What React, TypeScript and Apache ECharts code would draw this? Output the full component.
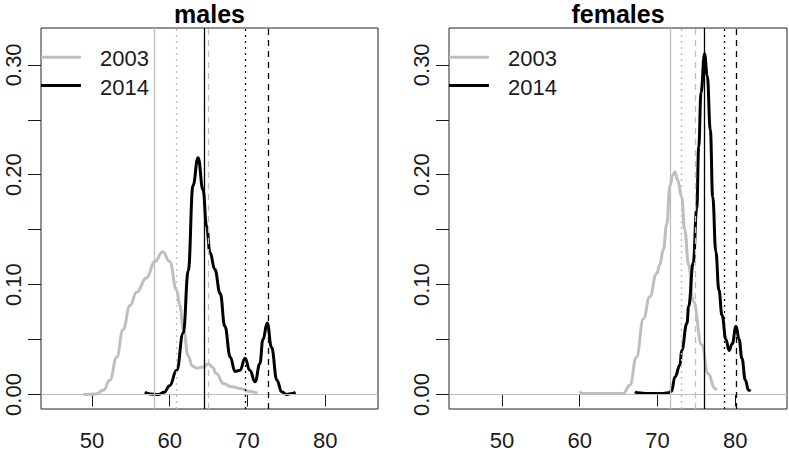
import React, { useEffect, useRef } from "react";
import * as echarts from "echarts";

// ---------- data ----------
const panelTitles = ["males", "females"];
const legendYears = ["2003", "2014"];
const xTickValues = [50, 60, 70, 80];
const yTickValues = [0, 0.05, 0.1, 0.15, 0.2, 0.25, 0.3];
const yLabelValues = [0, 0.1, 0.2, 0.3];

// males, 2003 (grey)
const malesAge2003 = [48.9, 50.5, 51.5, 52.3, 53.2, 54.0, 54.9, 55.75, 57.0, 58.1, 59.1, 60.0, 60.9, 61.3, 61.75, 62.4, 62.9, 63.5, 64.3, 65.0, 65.5, 66.0, 66.9, 68.0, 69.05, 70.2, 71.3];
const malesDens2003 = [0.0, 0.0005, 0.004, 0.013, 0.034, 0.059, 0.081, 0.093, 0.106, 0.121, 0.130, 0.121, 0.095, 0.081, 0.060, 0.035, 0.026, 0.024, 0.025, 0.028, 0.025, 0.019, 0.010, 0.007, 0.0055, 0.003, 0.001];
// males, 2014 (black)
const malesAge2014 = [56.8, 57.5, 58.5, 59.3, 60.0, 60.9, 61.75, 62.4, 63.0, 63.65, 64.3, 64.75, 65.2, 65.8, 66.5, 67.1, 67.8, 68.4, 69.05, 69.7, 70.3, 71.0, 71.6, 72.0, 72.55, 73.1, 73.8, 74.4, 75.05, 75.7, 76.2];
const malesDens2014 = [0.002, 0.0005, 0.0, 0.002, 0.008, 0.022, 0.056, 0.113, 0.19, 0.2155, 0.186, 0.153, 0.129, 0.114, 0.092, 0.062, 0.034, 0.021, 0.022, 0.033, 0.022, 0.0115, 0.028, 0.05, 0.065, 0.043, 0.013, 0.0024, 0.0, 0.001, 0.002];
// females, 2003 (grey)
const femalesAge2003 = [60.0, 60.3, 61.5, 63.5, 65.6, 66.45, 67.3, 68.2, 69.0, 69.9, 70.3, 70.75, 71.2, 71.6, 72.0, 72.25, 72.6, 73.1, 73.5, 74.0, 74.6, 75.7, 76.5, 77.4, 77.6];
const femalesDens2003 = [0.003, 0.001, 0.0008, 0.001, 0.001, 0.0085, 0.034, 0.069, 0.089, 0.11, 0.118, 0.132, 0.155, 0.19, 0.2, 0.2024, 0.195, 0.18, 0.15, 0.118, 0.085, 0.045, 0.019, 0.0055, 0.004];
// females, 2014 (black)
const femalesAge2014 = [67.1, 67.5, 68.8, 70.5, 71.4, 71.8, 72.25, 72.9, 73.1, 73.8, 74.0, 74.6, 75.05, 75.3, 75.6, 76.05, 76.4, 76.8, 77.1, 77.5, 77.9, 78.3, 78.8, 79.2, 79.6, 80.1, 80.5, 80.85, 81.3, 81.7, 81.95];
const femalesDens2014 = [0.0025, 0.0015, 0.001, 0.001, 0.0015, 0.003, 0.016, 0.027, 0.04, 0.065, 0.08, 0.12, 0.17, 0.225, 0.275, 0.31, 0.29, 0.24, 0.18, 0.13, 0.095, 0.072, 0.05, 0.04, 0.046, 0.062, 0.05, 0.033, 0.013, 0.004, 0.003];

// reference lines: [solid, dotted, dashed]
const malesRefs2003 = [58.0, 60.9, 65.0];
const malesRefs2014 = [64.4, 69.7, 72.65];
const femalesRefs2003 = [71.6, 73.05, 74.85];
const femalesRefs2014 = [76.0, 78.55, 80.1];

// ---------- styling ----------
const FONT = "'Liberation Sans', Arial, Helvetica, sans-serif";
const GREY = "#bebebe";
const BLACK = "#000000";
const TEXT = "#1a1a1a";
const lineTypes: any[] = ["solid", [2, 4], [6, 5]];

const grids = [
  { left: 41, top: 28, width: 337, height: 381, xMin: 43.45, xMax: 86.8 },
  { left: 449, top: 28, width: 338, height: 381, xMin: 43.2, xMax: 86.65 },
];
const yMin = -0.0132;
const yMax = 0.3335;

function zip(a: number[], b: number[]) {
  return a.map((v, i) => [v, b[i]]);
}

export default function App() {
  const ref = useRef<HTMLDivElement>(null);
  useEffect(() => {
    if (!ref.current) return;
    const chart = echarts.init(ref.current, undefined, { renderer: "svg" });

    const panels = [
      { a3: malesAge2003, d3: malesDens2003, a4: malesAge2014, d4: malesDens2014, r3: malesRefs2003, r4: malesRefs2014 },
      { a3: femalesAge2003, d3: femalesDens2003, a4: femalesAge2014, d4: femalesDens2014, r3: femalesRefs2003, r4: femalesRefs2014 },
    ];

    const xAxis = grids.map((g, i) => ({
      type: "value",
      gridIndex: i,
      min: g.xMin,
      max: g.xMax,
      axisLine: { show: false },
      splitLine: { show: false },
      axisTick: { show: true, customValues: xTickValues, length: 12, lineStyle: { color: TEXT, width: 1 } },
      axisLabel: {
        customValues: xTickValues,
        margin: 20,
        fontSize: 22,
        fontFamily: FONT,
        color: TEXT,
        formatter: (v: number) => String(v),
      },
    }));
    const yAxis = grids.map((g, i) => ({
      type: "value",
      gridIndex: i,
      min: yMin,
      max: yMax,
      axisLine: { show: false },
      splitLine: { show: false },
      axisTick: { show: true, customValues: yTickValues, length: 13, lineStyle: { color: TEXT, width: 1 } },
      axisLabel: {
        customValues: yLabelValues,
        rotate: 90,
        margin: 17,
        fontSize: 22,
        fontFamily: FONT,
        color: TEXT,
        formatter: (v: number) => v.toFixed(2),
      },
    }));

    const series: any[] = [];
    panels.forEach((p, i) => {
      const refLines = (vals: number[], color: string) =>
        vals.map((v, k) => ({
          xAxis: v,
          lineStyle: { color, width: 1.3, type: lineTypes[k] },
        }));
      series.push({
        type: "line",
        xAxisIndex: i,
        yAxisIndex: i,
        data: [],
        silent: true,
        markLine: {
          symbol: "none",
          silent: true,
          label: { show: false },
          data: [
            { yAxis: 0, lineStyle: { color: GREY, width: 1.2, type: "solid" } },
            ...refLines(p.r3, GREY),
            ...refLines(p.r4, BLACK),
          ],
        },
      });
      series.push({
        type: "line",
        name: legendYears[0],
        xAxisIndex: i,
        yAxisIndex: i,
        data: zip(p.a3, p.d3),
        showSymbol: false,
        smooth: 0.45,
        smoothMonotone: "x",
        lineStyle: { color: GREY, width: 3 },
      });
      series.push({
        type: "line",
        name: legendYears[1],
        xAxisIndex: i,
        yAxisIndex: i,
        data: zip(p.a4, p.d4),
        showSymbol: false,
        smooth: 0.45,
        smoothMonotone: "x",
        lineStyle: { color: BLACK, width: 3 },
      });
    });

    const graphics: any[] = [];
    grids.forEach((g, i) => {
      graphics.push({
        type: "text",
        x: g.left + g.width / 2,
        y: 14,
        style: {
          text: panelTitles[i],
          font: `bold 25px ${FONT}`,
          fill: "#000",
          align: "center",
          verticalAlign: "middle",
        },
      });
      const ly = [57.3, 85.5];
      const lc = [GREY, BLACK];
      legendYears.forEach((yr, k) => {
        graphics.push({
          type: "line",
          shape: { x1: g.left, y1: ly[k], x2: g.left + 40, y2: ly[k] },
          style: { stroke: lc[k], lineWidth: 3 },
        });
        graphics.push({
          type: "text",
          x: g.left + 59,
          y: ly[k] + 1.5,
          style: {
            text: yr,
            font: `22px ${FONT}`,
            fill: TEXT,
            align: "left",
            verticalAlign: "middle",
          },
        });
      });
    });

    chart.setOption({
      animation: false,
      backgroundColor: "#ffffff",
      grid: grids.map((g) => ({
        left: g.left,
        top: g.top,
        width: g.width,
        height: g.height,
        show: true,
        borderColor: "#222",
        borderWidth: 1,
        backgroundColor: "transparent",
        containLabel: false,
      })),
      xAxis,
      yAxis,
      series,
      graphic: graphics,
    });
    return () => chart.dispose();
  }, []);
  return (
    <div
      ref={ref}
      style={{ position: "fixed", left: 0, top: 0, width: 789, height: 453, background: "#fff" }}
    />
  );
}
